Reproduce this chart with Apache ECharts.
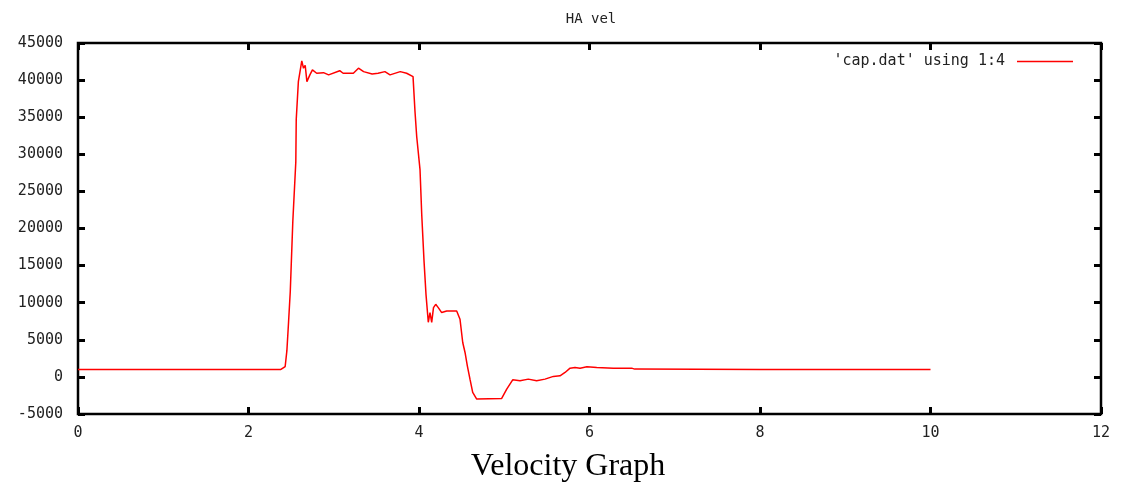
<!DOCTYPE html>
<html>
<head>
<meta charset="utf-8">
<script src="https://cdn.jsdelivr.net/npm/echarts@6/dist/echarts.min.js"></script>
<style>html,body{margin:0;padding:0;background:#fff;}#c{width:1122px;height:485px;}</style>
</head>
<body>
<div id="c"></div>
<script>
const seriesName = "'cap.dat' using 1:4";
const timeValues = [0, 0.5, 0.92, 0.94, 0.97, 1.5, 2.0, 2.38, 2.43, 2.45, 2.47, 2.49, 2.52, 2.555, 2.56, 2.585, 2.605, 2.625, 2.645, 2.665, 2.685, 2.72, 2.75, 2.80, 2.88, 2.94, 3.07, 3.11, 3.23, 3.29, 3.35, 3.45, 3.52, 3.60, 3.66, 3.78, 3.855, 3.93, 3.953, 3.973, 4.012, 4.032, 4.059, 4.082, 4.109, 4.129, 4.149, 4.170, 4.196, 4.226, 4.266, 4.325, 4.442, 4.481, 4.513, 4.54, 4.567, 4.598, 4.63, 4.677, 4.97, 5.029, 5.099, 5.185, 5.282, 5.38, 5.478, 5.576, 5.654, 5.713, 5.772, 5.83, 5.889, 5.97, 6.085, 6.28, 6.495, 6.53, 8.0, 10.0];
const velocityValues = [1000, 1000, 1000, 850, 1000, 1000, 1000, 1000, 1400, 3500, 7400, 11500, 21000, 29000, 34700, 39800, 40000, 42600, 41600, 42000, 39800, 40700, 41370, 40920, 41000, 40700, 41270, 40920, 40920, 41600, 41140, 40830, 40920, 41140, 40700, 41140, 40920, 40470, 35760, 32400, 27930, 21880, 15600, 11130, 7360, 8670, 7360, 9340, 9780, 9340, 8670, 8880, 8880, 7770, 4640, 3290, 1490, -300, -2080, -2980, -2900, -1640, -390, -520, -300, -520, -300, 70, 150, 600, 1180, 1280, 1180, 1360, 1280, 1180, 1180, 1050, 1000, 1000];
const xTicks = {min: 0, max: 12, step: 2};
const yTicks = {min: -5000, max: 45000, step: 5000};
const chartTitle = "HA vel";
const caption = "Velocity Graph";

const data = timeValues.map((t, i) => [t, velocityValues[i]]);
const mono = "DejaVu Sans Mono";
const labelStyle = {fontFamily: mono, fontSize: 15, color: '#222', formatter: v => String(v)};
const chart = echarts.init(document.getElementById('c'), null, {renderer: 'canvas'});
const tickStyle = {show: true, inside: true, length: 7, lineStyle: {color: '#000', width: 3}};
const noLine = {show: false, onZero: false};
chart.setOption({
  animation: false,
  backgroundColor: '#fff',
  title: [
    {text: chartTitle, left: 586, top: 7, textAlign: 'center', textStyle: {fontFamily: mono, fontSize: 14, fontWeight: 'normal', color: '#222'}},
    {text: caption, left: 563, top: 446, textAlign: 'center', textStyle: {fontFamily: 'Liberation Serif', fontSize: 32, fontWeight: 'normal', color: '#000'}}
  ],
  legend: {
    data: [{name: seriesName, icon: 'rect'}],
    right: 44, top: 49, align: 'right', itemWidth: 56, itemHeight: 1.5,
    textStyle: {fontFamily: mono, fontSize: 15, color: '#222', padding: [0, 7, 0, 0]}
  },
  grid: {left: 78, right: 21, top: 43, bottom: 71, show: true, borderColor: '#000', borderWidth: 2.5, backgroundColor: 'transparent'},
  xAxis: [
    {type: 'value', min: xTicks.min, max: xTicks.max, interval: xTicks.step, position: 'bottom',
     axisLine: noLine, axisTick: tickStyle, splitLine: {show: false},
     axisLabel: Object.assign({margin: 12}, labelStyle)},
    {type: 'value', min: xTicks.min, max: xTicks.max, interval: xTicks.step, position: 'top',
     axisLine: noLine, axisTick: tickStyle, splitLine: {show: false}, axisLabel: {show: false}}
  ],
  yAxis: [
    {type: 'value', min: yTicks.min, max: yTicks.max, interval: yTicks.step, position: 'left',
     axisLine: noLine, axisTick: tickStyle, splitLine: {show: false},
     axisLabel: Object.assign({margin: 15}, labelStyle)},
    {type: 'value', min: yTicks.min, max: yTicks.max, interval: yTicks.step, position: 'right',
     axisLine: noLine, axisTick: tickStyle, splitLine: {show: false}, axisLabel: {show: false}}
  ],
  series: [{
    name: seriesName, type: 'line', data: data, showSymbol: false, symbol: 'none',
    xAxisIndex: 0, yAxisIndex: 0,
    lineStyle: {color: '#ff0000', width: 1.5}, itemStyle: {color: '#ff0000'}
  }]
});
</script>
</body>
</html>
